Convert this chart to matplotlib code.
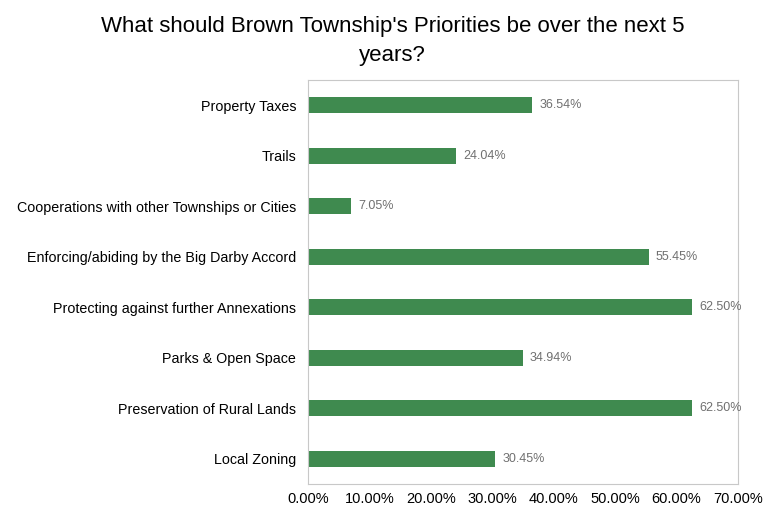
import matplotlib.pyplot as plt
import numpy as np

plt.rcParams['font.family'] = ['Liberation Sans', 'DejaVu Sans']

categories = [
    "Property Taxes",
    "Trails",
    "Cooperations with other Townships or Cities",
    "Enforcing/abiding by the Big Darby Accord",
    "Protecting against further Annexations",
    "Parks & Open Space",
    "Preservation of Rural Lands",
    "Local Zoning",
]
values = [36.54, 24.04, 7.05, 55.45, 62.50, 34.94, 62.50, 30.45]
xticks = [0, 10, 20, 30, 40, 50, 60, 70]

fig = plt.figure(figsize=(7.65, 5.14), dpi=100)
ax = fig.add_axes([0.4026, 0.0584, 0.5621, 0.786])

y = np.arange(len(categories))[::-1]
ax.barh(y, values, height=0.32, color="#3f8a4f")
for yi, v in zip(y, values):
    ax.text(v + 1.2, yi, f"{v:.2f}%", va="center", ha="left", fontsize=9, color="#707070")

ax.set_xlim(0, 70)
ax.set_ylim(-0.5, 7.5)
ax.set_yticks(y)
ax.set_yticklabels(categories, fontsize=10.3)
ax.set_xticks(xticks)
ax.set_xticklabels([f"{t:.2f}%" for t in xticks], fontsize=10.5)
ax.tick_params(length=0, pad=8.5, axis="y")
ax.tick_params(length=0, pad=6, axis="x")
for s in ax.spines.values():
    s.set_color("#c8c8c8")
    s.set_linewidth(0.8)

fig.text(0.513, 0.968, "What should Brown Township's Priorities be over the next 5\nyears?",
         ha="center", va="top", fontsize=16, linespacing=1.45)

fig.savefig("out.png", dpi=100)
